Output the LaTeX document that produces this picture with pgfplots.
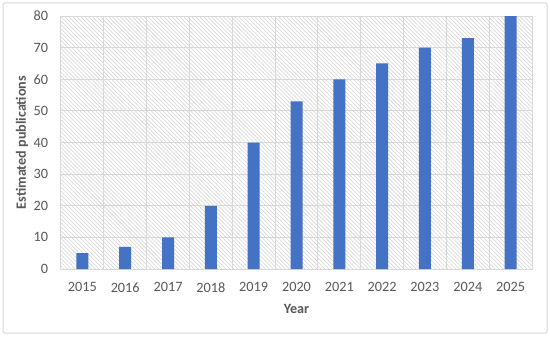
\documentclass[border=0pt]{standalone}
\usepackage{fontspec}
\setmainfont{Carlito}
\usepackage{pgfplots}
\pgfplotsset{compat=1.18}
\usetikzlibrary{patterns.meta}
\definecolor{barblue}{HTML}{4472C4}
\definecolor{gridgray}{HTML}{D9D9D9}
\definecolor{txtgray}{HTML}{595959}
\begin{document}
\begin{tikzpicture}
\path[fill=white] (0,0) rectangle (412.5pt,252pt);
\draw[gridgray, line width=0.75pt, rounded corners=1pt] (2.25pt,2.25pt) rectangle (410.25pt,249.75pt);
\begin{axis}[
  at={(45.75pt,50.25pt)}, anchor=south west,
  scale only axis, width=353.25pt, height=189.75pt,
  xmin=-0.5, xmax=10.5, ymin=0, ymax=80,
  xtick={0,...,10},
  xticklabels={2015,2016,2017,2018,2019,2020,2021,2022,2023,2024,2025},
  minor xtick={-0.5,0.5,...,10.5},
  ytick={0,10,...,80},
  xminorgrids=true, ymajorgrids=true,
  major tick length=0pt, minor tick length=0pt,
  grid style={gridgray, line width=0.75pt},
  minor grid style={gridgray, line width=0.75pt},
  axis line style={gridgray, line width=0.75pt},
  axis background/.style={pattern={Lines[angle=-45,distance=2.1pt,line width=0.4pt]}, pattern color=gray!35},
  /pgf/number format/assume math mode=true,
  tick label style={font=\fontsize{10.7}{12}\selectfont, text=txtgray},
  xticklabel style={yshift=-6.5pt},
  yticklabel style={xshift=-6.2pt},
  xlabel={Year}, ylabel={Estimated publications},
  label style={font=\fontsize{10.6}{12}\selectfont\bfseries, text=txtgray},
  xlabel style={at={(axis description cs:0.5,0)}, anchor=center, yshift=-30pt},
  ylabel style={at={(axis description cs:0,0.5)}, anchor=center, rotate=0, yshift=29.25pt},
]
\addplot[ybar, bar width=9pt, fill=barblue, draw=none] coordinates {
(0,5) (1,7) (2,10) (3,20) (4,40) (5,53) (6,60) (7,65) (8,70) (9,73) (10,80)
};
\end{axis}
\end{tikzpicture}
\end{document}
